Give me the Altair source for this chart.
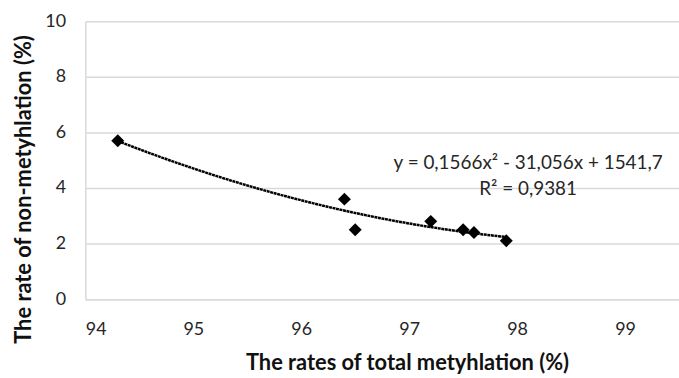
import altair as alt
import pandas as pd

# Data
total_methylation = [94.3, 96.4, 96.5, 97.2, 97.5, 97.6, 97.9]
non_methylation = [5.7, 3.6, 2.5, 2.8, 2.5, 2.4, 2.1]
x_ticks = [94, 95, 96, 97, 98, 99]
y_ticks = [0, 2, 4, 6, 8, 10]
equation_lines = ["y = 0,1566x² - 31,056x + 1541,7", "R² = 0,9381"]

df = pd.DataFrame({"x": total_methylation, "y": non_methylation})

FONT = "Lato"
LABEL_COLOR = "#262626"

x_enc = alt.X(
    "x:Q",
    scale=alt.Scale(domain=[94, 99.5], nice=False, zero=False),
    axis=alt.Axis(
        values=x_ticks,
        title="The rates of total metyhlation (%)",
        grid=False,
        ticks=False,
        domain=True,
        domainColor="#d9d9d9",
        domainWidth=1.5,
        labelFont=FONT,
        labelFontSize=18,
        labelColor=LABEL_COLOR,
        labelPadding=22,
        titleFont=FONT,
        titleFontSize=22,
        titleFontWeight="bold",
        titleColor="#111111",
        titleX=324,
        titleY=64,
        titleAlign="center",
        titleBaseline="middle",
    ),
)
y_enc = alt.Y(
    "y:Q",
    scale=alt.Scale(domain=[0, 10], nice=False),
    axis=alt.Axis(
        values=y_ticks,
        title="The rate of non-metyhlation (%)",
        grid=True,
        gridColor="#d9d9d9",
        gridWidth=1.5,
        ticks=False,
        domain=True,
        domainColor="#d9d9d9",
        domainWidth=1.5,
        labelFont=FONT,
        labelFontSize=18,
        labelColor=LABEL_COLOR,
        labelPadding=20,
        titleFont=FONT,
        titleFontSize=22,
        titleFontWeight="bold",
        titleColor="#111111",
        titleAngle=270,
        titleX=-62,
        titleY=169,
        titleAlign="center",
        titleBaseline="middle",
    ),
)

base = alt.Chart(df)

trend = (
    base.transform_regression("x", "y", method="poly", order=2)
    .mark_line(color="black", strokeWidth=2.5, strokeDash=[3, 0.6], clip=True)
    .encode(x=x_enc, y=y_enc)
)

points = base.mark_point(
    shape="diamond", filled=True, color="black", size=170, opacity=1
).encode(x=x_enc, y=y_enc)

eq1 = (
    alt.Chart(pd.DataFrame({"t": [equation_lines[0]]}))
    .mark_text(font=FONT, fontSize=19, color="#262626", align="center", baseline="middle")
    .encode(text="t:N", x=alt.value(446), y=alt.value(143))
)
eq2 = (
    alt.Chart(pd.DataFrame({"t": [equation_lines[1]]}))
    .mark_text(font=FONT, fontSize=19, color="#262626", align="center", baseline="middle")
    .encode(text="t:N", x=alt.value(446), y=alt.value(169))
)

chart = (
    alt.layer(trend, points, eq1, eq2)
    .properties(
        width=598,
        height=280,
        padding={"left": 86, "top": 20, "right": 0, "bottom": 78},
        autosize=alt.AutoSizeParams(type="none"),
        background="white",
    )
    .configure_view(stroke=None)
)

chart.save("out.html", embed_options={"renderer": "svg", "actions": False})
